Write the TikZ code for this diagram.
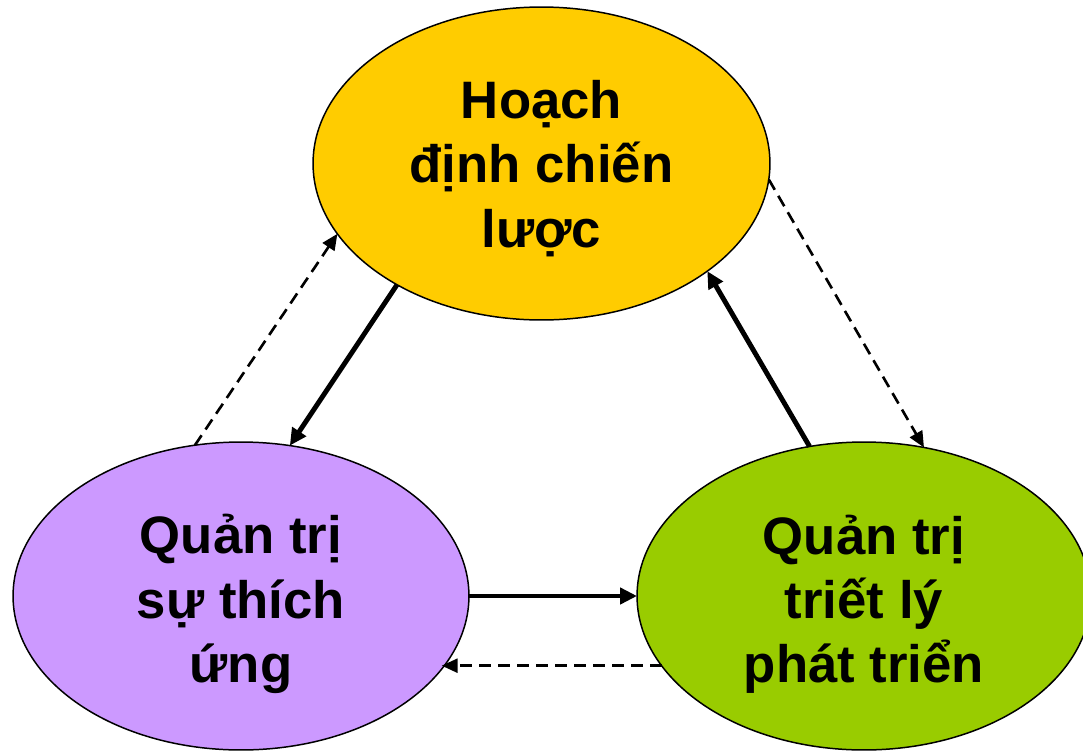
\documentclass[tikz,border=0pt]{standalone}
\usepackage{fontspec}
\setmainfont{Liberation Sans}
\usetikzlibrary{shapes.geometric,arrows.meta}
\definecolor{topc}{HTML}{FFCC00}
\definecolor{leftc}{HTML}{CC99FF}
\definecolor{rightc}{HTML}{99CC00}
\tikzset{
  bubble/.style={ellipse,draw=black,line width=0.85pt,inner sep=0pt,outer sep=0pt},
  lbl/.style={inner sep=0pt,align=center,font=\fontsize{30}{36.5}\selectfont\bfseries},
  solidarrow/.style={line width=2.8pt,-{Triangle[length=0.34cm,width=0.32cm]}},
  dasharrow/.style={line width=1.5pt,dash pattern=on 0.24cm off 0.14cm,-{Triangle[length=0.32cm,width=0.28cm]}}
}
\begin{document}
\begin{tikzpicture}[x=0.02cm,y=-0.02cm]
\useasboundingbox (0,0) rectangle (1083,751);
\node[bubble,fill=topc,minimum width=9.14cm,minimum height=6.26cm] (T) at (541.5,163.5) {};
\node[bubble,fill=leftc,minimum width=9.12cm,minimum height=6.16cm] (L) at (241,596) {};
\node[bubble,fill=rightc,minimum width=9.08cm,minimum height=6.16cm] (R) at (864,596) {};
\node[lbl] (Tt) at ([yshift=-0.1cm]T.center) {Hoạch\\định chiến\\lược};
\node[lbl] (Lt) at ([yshift=-0.16cm]L.center) {Quản trị\\sự thích\\ứng};
\node[lbl] (Rt) at ([yshift=-0.16cm]R.center) {Quản trị\\triết lý\\phát triển};
\draw[solidarrow] (T.220.5) -- (L.72.6);
\draw[dasharrow] (L.107.1) -- (T.199.8);
\draw[solidarrow] (R.110.4) -- (T.327);
\draw[dasharrow] (T.356.4) -- (R.68.6);
\draw[solidarrow] (L.east) -- (R.west);
\draw[dasharrow] (R.199.3) -- (L.340.9 |- R.199.3);
\end{tikzpicture}
\end{document}
